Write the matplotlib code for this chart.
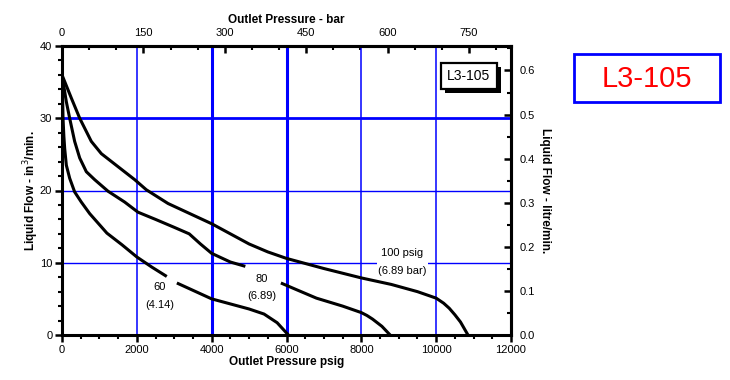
import matplotlib
matplotlib.use("Agg")
import matplotlib.pyplot as plt
from matplotlib.ticker import MultipleLocator, FormatStrFormatter
from matplotlib.patches import Rectangle
import matplotlib.patheffects as pe

plt.rcParams['font.family'] = ['Liberation Sans', 'DejaVu Sans']

# ---- data (psig vs in^3/min) ----
p100_x = [0, 249, 473, 783, 1051, 1497, 1943, 2254, 2834, 3500, 4000, 4500, 5000, 5500, 6000,
          7000, 8000, 8800, 9500, 10000, 10200, 10350, 10500, 10650, 10850]
p100_y = [36, 32.8, 30.0, 26.8, 25.1, 23.3, 21.5, 20.1, 18.2, 16.6, 15.4, 14.0, 12.6, 11.5, 10.6,
          9.2, 7.9, 7.0, 6.0, 5.1, 4.4, 3.7, 2.8, 1.8, 0]

p80a_x = [0, 115, 205, 338, 473, 650, 873, 1230, 1675, 2030, 2500, 3000, 3400, 3700, 4000, 4500, 4900]
p80a_y = [36, 32.3, 30.0, 26.8, 24.5, 22.6, 21.5, 19.9, 18.4, 17.0, 16.0, 14.9, 14.0, 12.6, 11.3, 10.1, 9.5]
p80b_x = [5850, 6300, 6800, 7500, 8000, 8150, 8300, 8550, 8770]
p80b_y = [7.2, 6.2, 5.1, 4.0, 3.1, 2.7, 2.2, 1.2, 0]

p60a_x = [0, 15, 27, 50, 72, 116, 205, 338, 516, 740, 1200, 1600, 2000, 2400, 2800]
p60a_y = [36, 33, 30, 27.5, 25.8, 23.5, 21.7, 19.8, 18.4, 16.8, 14.1, 12.5, 10.8, 9.4, 8.1]
p60b_x = [3070, 4000, 5000, 5400, 5750, 6050]
p60b_y = [7.2, 5.0, 3.6, 2.9, 1.7, 0]

label_100 = "100 psig\n(6.89 bar)"
label_80 = "80\n(6.89)"
label_60 = "60\n(4.14)"
model = "L3-105"

PSI_PER_BAR = 14.5038
L_PER_IN3 = 0.0163871

fig = plt.figure(figsize=(7.3, 3.8), dpi=100)
ax = fig.add_axes([62/730, 45/380, 449/730, 289/380])
ax.set_xlim(0, 12000)
ax.set_ylim(0, 40)

# grid lines
BLUE = '#0000ff'
for xv, lw in [(2000, 1.1), (4000, 2.2), (6000, 2.2), (8000, 1.1), (10000, 1.1)]:
    ax.axvline(xv, color=BLUE, lw=lw, zorder=1)
for yv, lw in [(30, 2.0), (20, 1.0), (10, 1.0)]:
    ax.axhline(yv, color=BLUE, lw=lw, zorder=1)

kw = dict(color='black', lw=2.2, zorder=3, solid_capstyle='butt', solid_joinstyle='round')
ax.plot(p100_x, p100_y, **kw)
ax.plot(p80a_x, p80a_y, **kw)
ax.plot(p80b_x, p80b_y, **kw)
ax.plot(p60a_x, p60a_y, **kw)
ax.plot(p60b_x, p60b_y, **kw)

fs = 8
ax.text(9090, 10.1, label_100, ha='center', va='center', fontsize=fs, linespacing=1.95,
        zorder=4, bbox=dict(facecolor='white', edgecolor='none', pad=1))
ax.text(5340, 6.6, label_80, ha='center', va='center', fontsize=fs, linespacing=1.9, zorder=4)
ax.text(2620, 5.4, label_60, ha='center', va='center', fontsize=fs, linespacing=1.9, zorder=4)

t = ax.text(0.906, 0.896, model, transform=ax.transAxes, ha='center', va='center',
            fontsize=10, zorder=6,
            bbox=dict(boxstyle='square,pad=0.45', facecolor='white', edgecolor='black', lw=1.6))
t.get_bbox_patch().set_path_effects([pe.SimplePatchShadow(offset=(3, -3), shadow_rgbFace='black', alpha=1.0), pe.Normal()])

# spines and ticks
for s in ax.spines.values():
    s.set_linewidth(2.2)
    s.set_zorder(5)
ax.xaxis.set_major_locator(MultipleLocator(2000))
ax.xaxis.set_minor_locator(MultipleLocator(500))
ax.yaxis.set_major_locator(MultipleLocator(10))
ax.yaxis.set_minor_locator(MultipleLocator(2))
ax.tick_params(axis='both', which='major', direction='out', length=5, width=1.8, labelsize=fs, pad=2)
ax.tick_params(axis='both', which='minor', direction='out', length=3, width=1.5)
ax.set_xlabel("Outlet Pressure psig", fontsize=8.5, fontweight='bold', labelpad=1)
ax.set_ylabel("Liquid Flow - in$^3$/min.", fontsize=8.5, fontweight='bold', labelpad=-1)

top = ax.secondary_xaxis('top', functions=(lambda p: p / PSI_PER_BAR, lambda b: b * PSI_PER_BAR))
top.xaxis.set_major_locator(MultipleLocator(150))
top.xaxis.set_minor_locator(MultipleLocator(50))
top.tick_params(which='major', direction='in', length=5, width=1.8, labelsize=fs, pad=6)
top.tick_params(which='minor', direction='in', length=3, width=1.5)
top.spines['top'].set_linewidth(2.2)
top.set_xlabel("Outlet Pressure - bar", fontsize=8.5, fontweight='bold', labelpad=3)

right = ax.secondary_yaxis('right', functions=(lambda v: v * L_PER_IN3, lambda l: l / L_PER_IN3))
right.yaxis.set_major_locator(MultipleLocator(0.1))
right.yaxis.set_minor_locator(MultipleLocator(0.05))
right.yaxis.set_major_formatter(FormatStrFormatter('%.1f'))
right.tick_params(which='major', direction='in', length=5, width=1.8, labelsize=fs, pad=6)
right.tick_params(which='minor', direction='in', length=3, width=1.5)
right.spines['right'].set_linewidth(2.2)
right.set_ylabel("Liquid Flow - litre/min.", fontsize=8.5, fontweight='bold', rotation=270, labelpad=12)

# red model box outside plot
fig.patches.append(Rectangle((574/730, 1 - 102/380), 146/730, 48/380, transform=fig.transFigure,
                             facecolor='white', edgecolor=BLUE, lw=2.0))
fig.text(646.5/730, 1 - 79/380, model, color='#ff0000', fontsize=21, ha='center', va='center')

fig.savefig("out.png", dpi=100)
